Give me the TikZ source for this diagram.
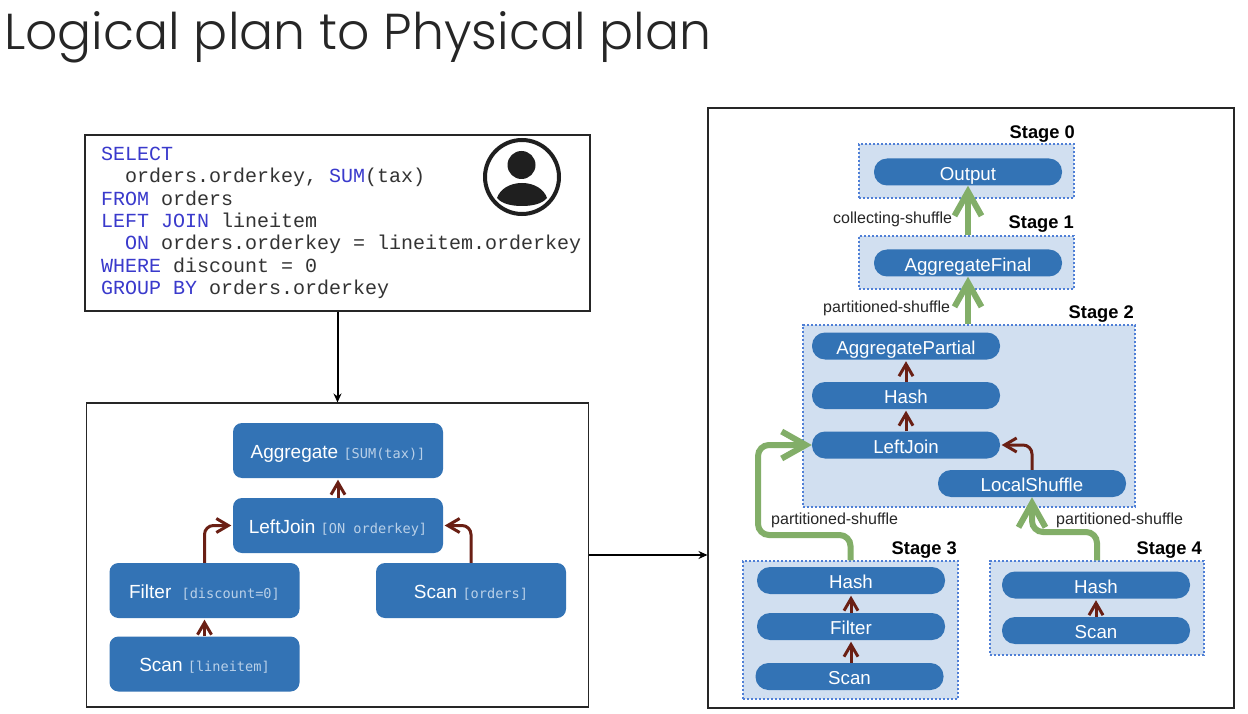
\documentclass[tikz,border=0pt]{standalone}
\usepackage{fontspec}
\usetikzlibrary{arrows.meta,calc}
\setmainfont{Liberation Sans}
\newfontfamily\titlefont{Poppins}[UprightFont={* Light}]
\newfontfamily\codefont{Liberation Mono}
\newfontfamily\labelfont{DejaVu Sans Mono}
\definecolor{opblue}{HTML}{3373B5}
\definecolor{stagefill}{HTML}{D1DFF0}
\definecolor{stageline}{HTML}{4F7FD6}
\definecolor{brownline}{HTML}{6A1F14}
\definecolor{greenline}{HTML}{82AE68}
\definecolor{sqlkw}{HTML}{3A3ACC}
\definecolor{sqltxt}{HTML}{333333}
\definecolor{paramtxt}{HTML}{B9D0E8}
\newcommand{\kw}[1]{\textcolor{sqlkw}{#1}}
\newcommand{\param}[1]{{\labelfont\fontsize{13.6}{13.6}\selectfont\textcolor{paramtxt}{#1}}}
\tikzset{
  x=1pt,y=-1pt,
  frame/.style={draw=black!85,line width=1.1pt,fill=white,inner sep=0pt},
  logicop/.style={fill=opblue,rounded corners=9pt,minimum width=#1,minimum height=55pt,inner sep=0pt,
    text=white,font=\fontsize{19}{19}\selectfont,text height=15.6pt,text depth=0pt},
  pill/.style={fill=opblue,rounded corners=13pt,minimum width=188pt,minimum height=27pt,inner sep=0pt,
    text=white,font=\fontsize{18.7}{19}\selectfont,text height=16.4pt,text depth=0pt},
  stagebox/.style={fill=stagefill,draw=stageline,line width=1.2pt,dash pattern=on 2.2pt off 1.8pt,inner sep=0pt},
  stagelabel/.style={anchor=east,inner sep=0pt,font=\bfseries\fontsize{18.3}{19}\selectfont,text height=13pt,text depth=0pt},
  shufflelabel/.style={anchor=west,inner sep=0pt,text=black!85,font=\fontsize{16}{16}\selectfont,text height=11.5pt,text depth=0pt},
  brownarrow/.style={draw=brownline,line width=3pt,shorten >=1.5pt,
    -{Straight Barb[length=12pt,width=14pt,line width=3pt]}},
  greenarrow/.style={draw=greenline,line width=6pt,
    -{Straight Barb[length=24pt,width=27pt,line width=6pt]}},
  blackarrow/.style={draw=black,line width=2pt,-{Stealth[length=9pt,width=8pt]}},
}
\begin{document}
\begin{tikzpicture}
\useasboundingbox (0,0) rectangle (1248,714);
\fill[white] (0,0) rectangle (1248,714);

% title
\node[anchor=base west,inner sep=0pt,text=black!85,font=\titlefont\fontsize{50.5}{50.5}\selectfont] (title) at (4,50) {Logical plan to Physical plan};

% frames
\node[frame,minimum width=505pt,minimum height=176pt] (sql) at (337.5,223) {};
\node[frame,minimum width=502pt,minimum height=304pt] (logical) at (337.5,555) {};
\node[frame,minimum width=526pt,minimum height=600pt] (physical) at (971,408) {};

% SQL text
\node[anchor=north west,inner sep=0pt,align=left,text=sqltxt,font=\codefont\fontsize{20}{22.3}\selectfont] (code) at (101,147) {%
\kw{SELECT}\\
~~orders.orderkey, \kw{SUM}(tax)\\
\kw{FROM} orders\\
\kw{LEFT JOIN} lineitem\\
~~\kw{ON} orders.orderkey = lineitem.orderkey\\
\kw{WHERE} discount = 0\\
\kw{GROUP BY} orders.orderkey};

% person icon
\node[circle,draw=black!88,line width=4pt,minimum size=74pt,inner sep=0pt] (person) at (522,177) {};
\fill[black!88] (521.5,165) circle (14);
\fill[black!88] (497,198) .. controls (500,189) and (510,183) .. (522,183)
  .. controls (534,183) and (544,189) .. (547,198)
  .. controls (542,204) and (532,206) .. (522,206)
  .. controls (512,206) and (502,204) .. (497,198) -- cycle;

% logical plan
\node[logicop=210pt] (agg) at (338,450.5) {Aggregate \param{[SUM(tax)]}};
\node[logicop=210pt] (join) at (338,525.5) {LeftJoin \param{[ON orderkey]}};
\node[logicop=190pt] (filter) at (204.5,590.5) {Filter\hspace{5pt} \param{[discount=0]}};
\node[logicop=190pt] (scanl) at (204.5,664) {Scan \param{[lineitem]}};
\node[logicop=190pt] (scano) at (471,590.5) {Scan \param{[orders]}};

\draw[brownarrow] (join.north) -- (agg.south);
\draw[brownarrow] (scanl.north) -- (filter.south);
\draw[brownarrow,rounded corners=9pt] (filter.north) |- (join.west);
\draw[brownarrow,rounded corners=9pt] (scano.north) |- (join.east);

% stage boxes
\node[stagebox,minimum width=215pt,minimum height=54pt] (s0) at (966.5,171) {};
\node[stagebox,minimum width=215pt,minimum height=53pt] (s1) at (966.5,262.5) {};
\node[stagebox,minimum width=332pt,minimum height=182pt] (s2) at (969,416) {};
\node[stagebox,minimum width=215pt,minimum height=138pt] (s3) at (850.5,630) {};
\node[stagebox,minimum width=214pt,minimum height=94pt] (s4) at (1097,608) {};

% stage labels
\node[stagelabel] (l0) at (1075,132) {Stage 0};
\node[stagelabel] (l1) at (1074,222) {Stage 1};
\node[stagelabel] (l2) at (1134,312) {Stage 2};
\node[stagelabel] (l3) at (957,548) {Stage 3};
\node[stagelabel] (l4) at (1202,548) {Stage 4};

% operators
\node[pill] (output) at (968,172) {Output};
\node[pill] (final) at (968,263) {AggregateFinal};
\node[pill] (partial) at (906,346) {AggregatePartial};
\node[pill] (hash2) at (906,395.5) {Hash};
\node[pill] (join2) at (906,445) {LeftJoin};
\node[pill] (local) at (1032,483.5) {LocalShuffle};
\node[pill] (hash3) at (851,580.5) {Hash};
\node[pill] (filter3) at (851,626.5) {Filter};
\node[pill] (scan3) at (849.5,676.5) {Scan};
\node[pill] (hash4) at (1096,585) {Hash};
\node[pill] (scan4) at (1096,630.5) {Scan};

% shuffle labels
\node[shufflelabel] (c1) at (833,218) {collecting-shuffle};
\node[shufflelabel] (p1) at (823,307) {partitioned-shuffle};
\node[shufflelabel] (p2) at (771,519) {partitioned-shuffle};
\node[shufflelabel] (p3) at (1056,519) {partitioned-shuffle};

% plain connectors
\draw[blackarrow] (sql.south) -- (logical.north);
\draw[blackarrow] (logical.east) -- (logical.east -| physical.west);

% brown connectors
\draw[brownarrow] (hash2.north) -- (partial.south);
\draw[brownarrow] (join2.north) -- (hash2.south);
\draw[brownarrow,rounded corners=9pt] (local.north) |- (join2.east);
\draw[brownarrow] (filter3.north) -- (hash3.south);
\draw[brownarrow] (scan3.north -| filter3.north) -- (filter3.south);
\draw[brownarrow] (scan4.north) -- (hash4.south);

% green connectors
\coordinate (g3a) at (850.5,535);
\coordinate (g3b) at (758,535);
\coordinate (g4a) at (1097,532);
\coordinate (g4b) at (1032,532);
\draw[greenarrow] (output.south |- s1.north) -- (output.south);
\draw[greenarrow] (final.south |- s2.north) -- (final.south);
\draw[greenarrow,rounded corners=11pt] (s3.north) -- (g3a) -- (g3b) |- (join2.west);
\draw[greenarrow,rounded corners=11pt] (s4.north) -- (g4a) -- (g4b) -- (local.south);
\end{tikzpicture}
\end{document}
